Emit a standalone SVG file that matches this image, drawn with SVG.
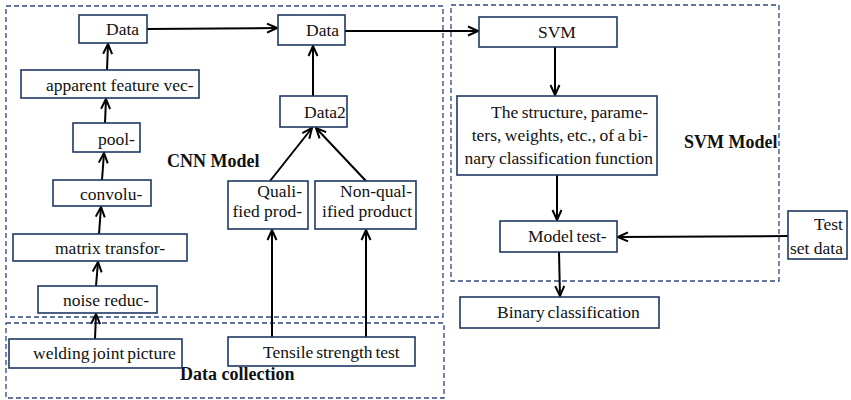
<svg xmlns="http://www.w3.org/2000/svg" width="851" height="400" viewBox="0 0 851 400">
<style>
.bg{fill:#ffffff}
.box{fill:#ffffff;stroke:#1f3864;stroke-width:1.6}
.grp{fill:none;stroke:#2f4a78;stroke-width:1.3;stroke-dasharray:5 3}
.t{font-family:"Liberation Serif","Tinos","Times New Roman","DejaVu Serif",serif;font-size:17.5px;font-weight:normal;fill:#111}
.b{font-family:"Liberation Serif","Tinos","Times New Roman","DejaVu Serif",serif;font-size:18px;font-weight:bold;fill:#111}
.c{fill:none;stroke:#000;stroke-width:2}
</style>
<defs>
<marker id="ah" viewBox="0 0 12 12" refX="11" refY="6" markerWidth="12" markerHeight="12" markerUnits="userSpaceOnUse" orient="auto">
<path d="M1,1.5 L11,6 L1,10.5" fill="none" stroke="#000" stroke-width="2"/>
</marker>
</defs>
<rect class="bg" x="0" y="0" width="851" height="400"/>
<g id="groups">
<rect id="cnn-group" class="grp" x="6" y="6" width="437" height="311"/>
<rect id="data-collection-group" class="grp" x="6" y="323" width="438" height="75"/>
<rect id="svm-group" class="grp" x="451" y="5" width="328" height="276"/>
<text class="b" x="167" y="167">CNN Model</text>
<text class="b" x="684" y="148">SVM Model</text>
<text class="b" x="180" y="380">Data collection</text>
</g>
<g id="connectors">
<line class="c" x1="95" y1="339" x2="96" y2="314" marker-end="url(#ah)"/>
<line class="c" x1="96" y1="286" x2="98" y2="262" marker-end="url(#ah)"/>
<line class="c" x1="99" y1="234" x2="101" y2="207" marker-end="url(#ah)"/>
<line class="c" x1="102" y1="180" x2="104" y2="153" marker-end="url(#ah)"/>
<line class="c" x1="105" y1="123" x2="106" y2="99" marker-end="url(#ah)"/>
<line class="c" x1="107" y1="70" x2="108" y2="44" marker-end="url(#ah)"/>
<line class="c" x1="147" y1="29" x2="277" y2="28" marker-end="url(#ah)"/>
<line class="c" x1="345" y1="31" x2="478" y2="31" marker-end="url(#ah)"/>
<line class="c" x1="313" y1="96" x2="313" y2="46" marker-end="url(#ah)"/>
<line class="c" x1="270" y1="181" x2="312" y2="128" marker-end="url(#ah)"/>
<line class="c" x1="366" y1="181" x2="316" y2="128" marker-end="url(#ah)"/>
<line class="c" x1="272" y1="337" x2="272" y2="230" marker-end="url(#ah)"/>
<line class="c" x1="366" y1="337" x2="366" y2="230" marker-end="url(#ah)"/>
<line class="c" x1="555" y1="47" x2="555" y2="95" marker-end="url(#ah)"/>
<line class="c" x1="557" y1="175" x2="557" y2="220" marker-end="url(#ah)"/>
<line class="c" x1="559" y1="252" x2="560" y2="296" marker-end="url(#ah)"/>
<line class="c" x1="788" y1="236" x2="618" y2="237" marker-end="url(#ah)"/>
</g>
<g id="n-data1"><rect class="box" x="79" y="15" width="68" height="28"/><text class="t" x="106" y="35">Data</text></g>
<g id="n-apparent"><rect class="box" x="21" y="70" width="178" height="28"/><text class="t" x="46" y="91">apparent feature vec-</text></g>
<g id="n-pool"><rect class="box" x="73" y="123" width="67" height="29"/><text class="t" x="98" y="145">pool-</text></g>
<g id="n-convolu"><rect class="box" x="53" y="180" width="98" height="26"/><text class="t" x="80" y="200">convolu-</text></g>
<g id="n-matrix"><rect class="box" x="13" y="234" width="174" height="27"/><text class="t" x="55" y="254">matrix transfor-</text></g>
<g id="n-noise"><rect class="box" x="38" y="286" width="119" height="27"/><text class="t" x="63" y="306">noise reduc-</text></g>
<g id="n-welding"><rect class="box" x="9" y="339" width="173" height="29"/><text class="t" x="33" y="359" word-spacing="-1.5">welding joint picture</text></g>
<g id="n-data-center"><rect class="box" x="278" y="15" width="67" height="30"/><text class="t" x="306" y="36">Data</text></g>
<g id="n-data2"><rect class="box" x="280" y="96" width="67" height="31"/><text class="t" x="304" y="118">Data2</text></g>
<g id="n-qualified"><rect class="box" x="228" y="181" width="80" height="48"/><text class="t" text-anchor="end" x="302" y="197">Quali-</text><text class="t" text-anchor="end" x="302" y="217">fied prod-</text></g>
<g id="n-nonqualified"><rect class="box" x="315" y="181" width="101" height="48"/><text class="t" text-anchor="end" x="412" y="197">Non-qual-</text><text class="t" text-anchor="end" x="412" y="217">ified product</text></g>
<g id="n-tensile"><rect class="box" x="228" y="337" width="187" height="29"/><text class="t" x="263" y="358" word-spacing="-1.5">Tensile strength test</text></g>
<g id="n-svm"><rect class="box" x="479" y="17" width="138" height="30"/><text class="t" x="538" y="38">SVM</text></g>
<g id="n-structure"><rect class="box" x="457" y="96" width="200" height="79"/><text class="t" text-anchor="end" x="648" y="118" word-spacing="-1">The structure, parame-</text><text class="t" text-anchor="end" x="648" y="141" word-spacing="-1">ters, weights, etc., of a bi-</text><text class="t" text-anchor="end" x="653" y="164" word-spacing="-1">nary classification function</text></g>
<g id="n-modeltest"><rect class="box" x="500" y="221" width="117" height="31"/><text class="t" x="528" y="242" word-spacing="-1.5">Model test-</text></g>
<g id="n-testset"><rect class="box" x="788" y="211" width="59" height="48"/><text class="t" text-anchor="end" x="843" y="230">Test</text><text class="t" text-anchor="end" x="843" y="254">set data</text></g>
<g id="n-binary"><rect class="box" x="460" y="297" width="199" height="31"/><text class="t" x="497" y="318" word-spacing="-1.5">Binary classification</text></g>
</svg>
